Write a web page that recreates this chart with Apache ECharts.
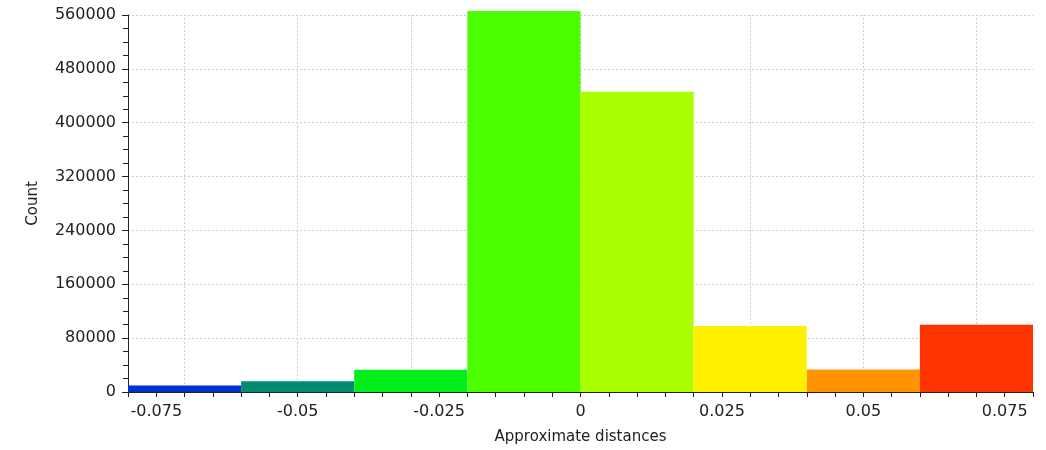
<!DOCTYPE html>
<html><head><meta charset="utf-8">
<script src="https://cdn.jsdelivr.net/npm/echarts@6/dist/echarts.min.js"></script>
<style>html,body{margin:0;padding:0;background:#fff}#c{width:1046px;height:450px}</style>
</head><body><div id="c"></div>
<script>
const binStarts = [-0.08, -0.06, -0.04, -0.02, 0.0, 0.02, 0.04, 0.06];
const binEnds   = [-0.06, -0.04, -0.02, 0.0, 0.02, 0.04, 0.06, 0.08];
const counts    = [9500, 16000, 33000, 566000, 446000, 98000, 33500, 100000];
const binColors = ['#0030d0', '#008c6e', '#00ee1a', '#4cff00', '#aaff00', '#fff000', '#ff9300', '#ff3300'];
const xMajorTicks = [-0.075, -0.05, -0.025, 0, 0.025, 0.05, 0.075];

const font = 'DejaVu Sans';
const chart = echarts.init(document.getElementById('c'), null, {renderer: 'canvas'});
const data = binStarts.map((s, i) => [s, binEnds[i], counts[i]]);
chart.setOption({
  animation: false,
  grid: {left: 128, right: 13, top: 15, bottom: 58, containLabel: false},
  xAxis: {
    type: 'value', min: -0.08, max: 0.08, interval: 0.005,
    name: 'Approximate distances', nameLocation: 'middle', nameGap: 38,
    nameTextStyle: {fontFamily: font, fontSize: 15, color: '#222'},
    axisLine: {onZero: false, lineStyle: {color: '#222', width: 1}},
    axisTick: {show: true, length: 5, lineStyle: {color: '#222'}},
    axisLabel: {
      fontFamily: font, fontSize: 16, color: '#222', margin: 12,
      showMinLabel: true, showMaxLabel: true,
      formatter: v => {
        const k = Math.round(v / 0.005);
        if (k % 5 !== 0) return '';
        const r = Math.round(v * 1000) / 1000;
        return xMajorTicks.indexOf(r) >= 0 ? String(r) : '';
      }
    },
    splitLine: {show: false}
  },
  yAxis: {
    type: 'value', min: 0, max: 560000, interval: 80000,
    name: 'Count', nameLocation: 'middle', nameGap: 87, nameRotate: 90,
    nameTextStyle: {fontFamily: font, fontSize: 15, color: '#222'},
    axisLine: {show: true, onZero: false, lineStyle: {color: '#222', width: 1}},
    axisTick: {show: true, length: 6, lineStyle: {color: '#222'}},
    minorTick: {show: true, splitNumber: 4, length: 5, lineStyle: {color: '#222'}},
    axisLabel: {fontFamily: font, fontSize: 16, color: '#222', margin: 12, formatter: v => String(v)},
    splitLine: {show: true, lineStyle: {color: '#cfcfcf', type: [2, 2], width: 1}}
  },
  series: [{
    type: 'line', data: [], silent: true, z: 1,
    markLine: {
      silent: true, symbol: 'none', label: {show: false},
      lineStyle: {color: '#cfcfcf', type: [2, 2], width: 1},
      data: xMajorTicks.map(v => ({xAxis: v}))
    }
  }, {
    type: 'custom',
    clip: false,
    renderItem: (params, api) => {
      const p0 = api.coord([api.value(0), 0]);
      const p1 = api.coord([api.value(1), api.value(2)]);
      return {
        type: 'rect',
        shape: {x: p0[0], y: p1[1], width: p1[0] - p0[0], height: p0[1] - p1[1]},
        style: {fill: binColors[params.dataIndex]}
      };
    },
    encode: {x: [0, 1], y: 2},
    data: data,
    z: 5
  }]
});
</script></body></html>
